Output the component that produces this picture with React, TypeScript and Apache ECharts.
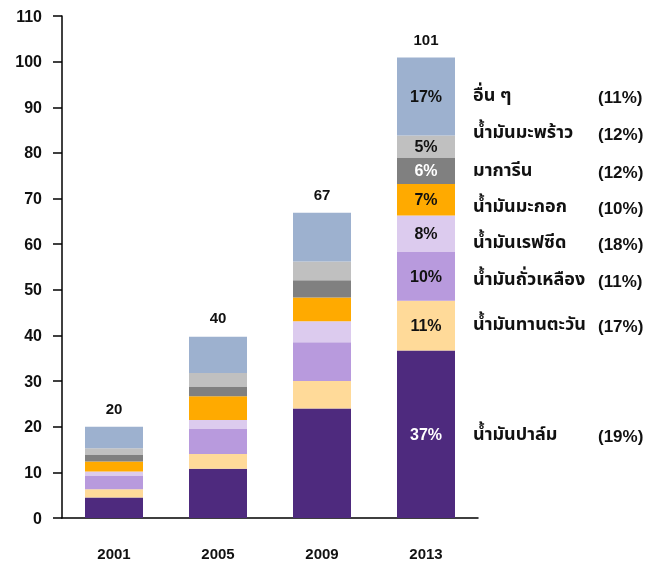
import React, { useEffect, useRef } from "react";
import * as echarts from "echarts";

const years = ["2001", "2005", "2009", "2013"];
const palm = [4.5, 10.8, 24.0, 36.7];
const sunflower = [1.8, 3.2, 6.0, 10.9];
const soybean = [3.0, 5.5, 8.5, 10.7];
const rapeseed = [0.9, 2.0, 4.6, 8.0];
const olive = [2.2, 5.2, 5.2, 6.9];
const margarine = [1.5, 2.1, 3.8, 5.8];
const coconut = [1.4, 3.0, 4.1, 4.8];
const others = [4.7, 7.9, 10.7, 17.1];
const totals = [20, 40, 67, 101];
const yTicks = [0, 10, 20, 30, 40, 50, 60, 70, 80, 90, 100, 110];

const shares2013 = ["37%", "11%", "10%", "8%", "7%", "6%", "5%", "17%"];
const legendNames = [
  "น้ำมันปาล์ม",
  "น้ำมันทานตะวัน",
  "น้ำมันถั่วเหลือง",
  "น้ำมันเรฟซีด",
  "น้ำมันมะกอก",
  "มาการีน",
  "น้ำมันมะพร้าว",
  "อื่น ๆ",
];
const legendShares = ["(19%)", "(17%)", "(11%)", "(18%)", "(10%)", "(12%)", "(12%)", "(11%)"];

const seriesData = [palm, sunflower, soybean, rapeseed, olive, margarine, coconut, others];
const colors = ["#4E2A7E", "#FFDA99", "#B89ADD", "#DCCBEE", "#FFAA00", "#808080", "#C0C0C0", "#9DB1CF"];
const labelColors = ["#FFFFFF", "#111111", "#111111", "#111111", "#111111", "#FFFFFF", "#111111", "#111111"];
const legendY = [435, 325, 280, 243, 207, 171, 133, 96];

const FONT = "'Liberation Sans', Arial, sans-serif";
const THAI_FONT = "'Noto Sans Thai', 'Loma', 'Tahoma', 'Liberation Sans', sans-serif";

export default function App() {
  const ref = useRef<HTMLDivElement>(null);
  useEffect(() => {
    if (!ref.current) return;
    const chart = echarts.init(ref.current, undefined, { renderer: "svg" });
    const barSeries = seriesData.map((arr, si) => ({
      name: legendNames[si],
      type: "bar",
      stack: "total",
      barWidth: 58,
      itemStyle: { color: colors[si] },
      data: arr.map((v, i) =>
        i === 3
          ? {
              value: v,
              label: {
                show: true,
                position: "inside",
                formatter: shares2013[si],
                color: labelColors[si],
                fontFamily: FONT,
                fontWeight: "bold",
                fontSize: 16,
              },
            }
          : v
      ),
    }));
    const graphics: any[] = [];
    legendNames.forEach((n, i) => {
      graphics.push({
        type: "text",
        x: 473,
        y: legendY[i] - 1,
        style: {
          text: n,
          fontFamily: THAI_FONT,
          fontSize: 18,
          fill: "#111",
          fontWeight: "bold",
          textAlign: "left",
          textVerticalAlign: "middle",
          verticalAlign: "middle",
        },
      });
      graphics.push({
        type: "text",
        x: 598,
        y: legendY[i] + 1,
        style: {
          text: legendShares[i],
          fontFamily: FONT,
          fontSize: 17,
          fontWeight: "bold",
          fill: "#111",
          textAlign: "left",
          textVerticalAlign: "middle",
          verticalAlign: "middle",
        },
      });
    });
    chart.setOption({
      animation: false,
      grid: { left: 62, top: 16, width: 416, height: 502, containLabel: false },
      xAxis: {
        type: "category",
        data: years,
        axisLine: { lineStyle: { color: "#000", width: 1.5 } },
        axisTick: { show: false },
        axisLabel: { margin: 28, fontFamily: FONT, fontWeight: "bold", fontSize: 15, color: "#111" },
      },
      yAxis: {
        type: "value",
        min: yTicks[0],
        max: yTicks[yTicks.length - 1],
        interval: 10,
        axisLine: { show: true, lineStyle: { color: "#000", width: 1.5 } },
        axisTick: { show: true, length: 9, lineStyle: { color: "#000", width: 1.5 } },
        splitLine: { show: false },
        axisLabel: { margin: 20, fontFamily: FONT, fontWeight: "bold", fontSize: 16, color: "#111" },
      },
      series: [
        ...barSeries,
        {
          type: "scatter",
          data: totals,
          symbolSize: 1,
          itemStyle: { color: "rgba(0,0,0,0)", opacity: 1 },
          label: {
            show: true,
            position: "top",
            distance: 10,
            fontFamily: FONT,
            fontWeight: "bold",
            fontSize: 15,
            color: "#111",
            opacity: 1,
          },
          z: 5,
        },
      ],
      graphic: graphics,
    });
    return () => chart.dispose();
  }, []);
  return <div ref={ref} style={{ position: "fixed", left: 0, top: 0, width: 654, height: 565 }} />;
}
